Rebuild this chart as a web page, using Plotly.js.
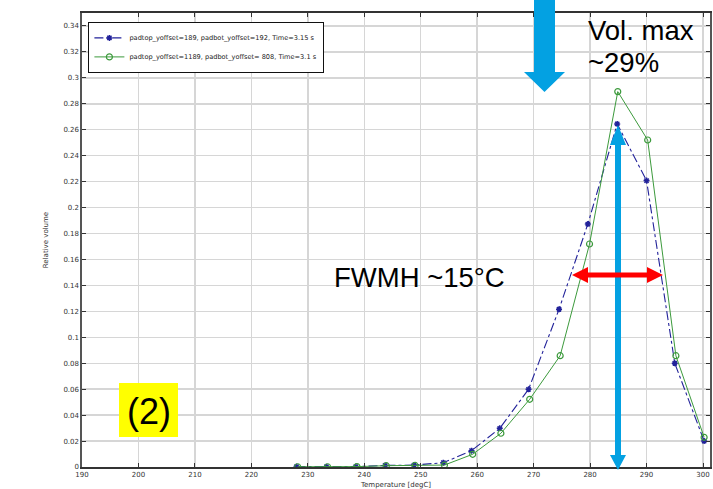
<!DOCTYPE html>
<html>
<head>
<meta charset="utf-8">
<script src="https://cdn.plot.ly/plotly-3.0.1.min.js"></script>
<style>html,body{margin:0;padding:0;background:#fff;}#chart{width:713px;height:489px;}</style>
</head>
<body>
<div id="chart"></div>
<script>
// ---- data ----
const tempBlue  = [228, 233.3, 238.5, 243.7, 248.8, 254, 259, 264, 269.1, 274.5, 279.6, 284.8, 290, 295, 300.2];
const volBlue   = [0.0003, 0.0002, 0.0003, 0.0012, 0.0015, 0.0033, 0.0126, 0.0298, 0.0599, 0.1216, 0.1873, 0.2645, 0.2208, 0.080, 0.020];
const tempGreen = [228.2, 233.5, 238.7, 243.9, 249.0, 254.2, 259.2, 264.2, 269.3, 274.7, 279.9, 284.9, 290.2, 295.2, 300.2];
const volGreen  = [0.0002, 0.0002, 0.0003, 0.0010, 0.0012, 0.0015, 0.0098, 0.0260, 0.0522, 0.0858, 0.1719, 0.2894, 0.2521, 0.0858, 0.0229];
const nameBlue  = 'padtop_yoffset=189, padbot_yoffset=192, Time=3.15 s';
const nameGreen = 'padtop_yoffset=1189, padbot_yoffset= 808, Time=3.1 s';
const yTickVals = [0,0.02,0.04,0.06,0.08,0.1,0.12,0.14,0.16,0.18,0.2,0.22,0.24,0.26,0.28,0.3,0.32,0.34];
const yTickText = ['0','0.02','0.04','0.06','0.08','0.1','0.12','0.14','0.16','0.18','0.2','0.22','0.24','0.26','0.28','0.3','0.32','0.34'];
const xTickVals = [190,200,210,220,230,240,250,260,270,280,290,300];
const notes = {vol: 'Vol. max', pct: '~29%', fwhm: 'FWMH ~15°C', label: '(2)'};

// ---- layout helpers (pixel -> paper) ----
const L = 82, R = 710, T = 13, B = 467;
const fx = p => (p - L) / (R - L);
const fy = p => (B - p) / (B - T);
function pathFrom(pts){
  return 'M' + pts.map(p => fx(p[0]).toFixed(5) + ',' + fy(p[1]).toFixed(5)).join(' L') + ' Z';
}
const cyan = '#03a1e2';
const arrowDown = pathFrom([[534,-6],[555,-6],[555,72],[565,72],[544.5,92],[524,72],[534,72]]);
const arrowV = pathFrom([[618,125],[626,145],[621,145],[621,455],[626,455],[618,470],[610,455],[615,455],[615,145],[610,145]]);
const arrowH = pathFrom([[572,275],[588,267],[588,272.5],[647,272.5],[647,267],[663,275],[647,283],[647,277.5],[588,277.5],[588,283]]);

const traces = [
  {x: tempBlue, y: volBlue, name: nameBlue, type: 'scatter', mode: 'lines+markers',
   line: {color: '#22229a', width: 1.1, dash: 'dashdot'},
   marker: {symbol: 'asterisk-open', size: 5, color: '#22229a', line: {color: '#22229a', width: 1.5}}},
  {x: tempGreen, y: volGreen, name: nameGreen, type: 'scatter', mode: 'lines+markers',
   line: {color: '#3c9a3c', width: 1},
   marker: {symbol: 'circle-open', size: 6, color: '#3c9a3c', line: {color: '#3c9a3c', width: 1.2}}}
];

const axFont = {family: 'DejaVu Sans, sans-serif', size: 7, color: '#333'};
const layout = {
  width: 713, height: 489,
  margin: {l: L, r: 713 - R, t: T, b: 489 - B, pad: 0},
  paper_bgcolor: '#fff', plot_bgcolor: '#fff',
  showlegend: true,
  legend: {x: fx(88), y: fy(22), xanchor: 'left', yanchor: 'top', itemwidth: 30,
           bgcolor: '#fff', bordercolor: '#111', borderwidth: 1.4,
           font: {family: 'DejaVu Sans, sans-serif', size: 6.6, color: '#222'}},
  xaxis: {range: [190, 301.24], tickvals: xTickVals, ticks: 'inside', ticklen: 4, tickcolor: '#333',
          showgrid: true, gridcolor: '#d6d6d6', gridwidth: 1.4, zeroline: false,
          showline: true, linecolor: '#333', linewidth: 1.8, mirror: 'ticks',
          tickfont: axFont, automargin: false,
          title: {text: 'Temperature [degC]', font: axFont, standoff: 10}},
  yaxis: {range: [0, 0.35], tickvals: yTickVals, ticktext: yTickText, ticks: 'inside', ticklen: 4, tickcolor: '#333',
          showgrid: true, gridcolor: '#d6d6d6', gridwidth: 1.4, zeroline: false,
          showline: true, linecolor: '#555', linewidth: 1.6, mirror: 'ticks',
          tickfont: axFont, automargin: false,
          title: {text: 'Relative volume', font: axFont, standoff: 14}},
  shapes: [
    {type: 'rect', xref: 'paper', yref: 'paper', x0: fx(119), x1: fx(178), y0: fy(437), y1: fy(383),
     fillcolor: '#ffff00', line: {width: 0}, layer: 'above'},
    {type: 'path', xref: 'paper', yref: 'paper', path: arrowDown, fillcolor: cyan, line: {width: 0}, layer: 'above'},
    {type: 'path', xref: 'paper', yref: 'paper', path: arrowV, fillcolor: cyan, line: {width: 0}, layer: 'above'},
    {type: 'path', xref: 'paper', yref: 'paper', path: arrowH, fillcolor: '#ff0000', line: {width: 0}, layer: 'above'}
  ],
  annotations: [
    {xref: 'paper', yref: 'paper', x: fx(586), y: fy(31), xanchor: 'left', yanchor: 'middle', showarrow: false,
     text: notes.vol, font: {family: 'Liberation Sans, Arial, sans-serif', size: 27.5, color: '#000'}},
    {xref: 'paper', yref: 'paper', x: fx(586), y: fy(63), xanchor: 'left', yanchor: 'middle', showarrow: false,
     text: notes.pct, font: {family: 'Liberation Sans, Arial, sans-serif', size: 27.5, color: '#000'}},
    {xref: 'paper', yref: 'paper', x: fx(332), y: fy(277), xanchor: 'left', yanchor: 'middle', showarrow: false,
     text: notes.fwhm, font: {family: 'Liberation Sans, Arial, sans-serif', size: 27.5, color: '#000'}},
    {xref: 'paper', yref: 'paper', x: fx(148.5), y: fy(411), xanchor: 'center', yanchor: 'middle', showarrow: false,
     text: notes.label, font: {family: 'Liberation Sans, Arial, sans-serif', size: 36, color: '#000'}}
  ]
};

Plotly.newPlot('chart', traces, layout, {displayModeBar: false, staticPlot: true});
</script>
</body>
</html>
